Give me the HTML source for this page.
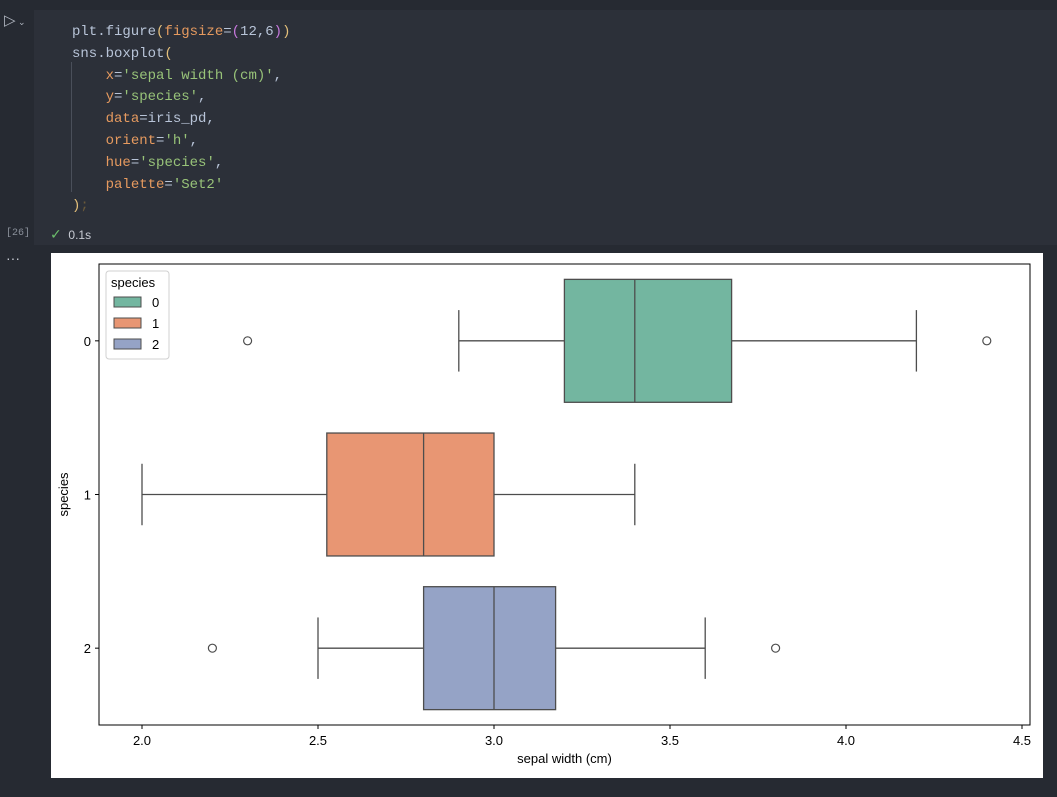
<!DOCTYPE html>
<html><head><meta charset="utf-8"><style>
body{margin:0;width:1057px;height:797px;background:#262a32;position:relative;overflow:hidden;font-family:"Liberation Sans","DejaVu Sans",sans-serif}
.cell{position:absolute;left:34px;top:10px;width:1023px;height:235px;background:#2c3039}
.code{position:absolute;left:72px;top:22px;font-family:"Liberation Mono","DejaVu Sans Mono",monospace;font-size:14px;line-height:21.8px;color:#a9b7c6;white-space:pre}
.o{color:#e69a5f}.g{color:#98c379}.y{color:#e5c07b}.p{color:#c678dd}.w{color:#b8c4d8}
.out{position:absolute;left:51px;top:253px;width:992px;height:525px;background:#fff}
</style></head><body>
<div style="position:absolute;left:4px;top:11px;color:#b0b6c0;font-size:15px">▷<span style="font-size:9px"> ⌄</span></div>
<div class="cell"></div>
<div style="position:absolute;left:71px;top:62px;width:1px;height:130px;background:#4a4f5a"></div>
<div class="code"><span class="w">plt.figure</span><span class="y">(</span><span class="o">figsize</span><span class="w">=</span><span class="p">(</span><span class="w">12,6</span><span class="p">)</span><span class="y">)</span>
<span class="w">sns.boxplot</span><span class="y">(</span>
    <span class="o">x</span><span class="w">=</span><span class="g">'sepal width (cm)'</span><span class="w">,</span>
    <span class="o">y</span><span class="w">=</span><span class="g">'species'</span><span class="w">,</span>
    <span class="o">data</span><span class="w">=iris_pd,</span>
    <span class="o">orient</span><span class="w">=</span><span class="g">'h'</span><span class="w">,</span>
    <span class="o">hue</span><span class="w">=</span><span class="g">'species'</span><span class="w">,</span>
    <span class="o">palette</span><span class="w">=</span><span class="g">'Set2'</span>
<span class="y">)</span><span style="color:#6b5a3a">;</span></div>
<div style="position:absolute;left:6px;top:228px;font-size:10px;color:#8a909a;font-family:'Liberation Mono',monospace">[26]</div>
<div style="position:absolute;left:50px;top:226px;font-size:12px;color:#c8ccd4"><span style="color:#6cbf6c;font-size:14px">✓</span>&nbsp;&nbsp;0.1s</div>
<div style="position:absolute;left:6px;top:250px;color:#c8ccd4;font-size:14px">···</div>
<div class="out">
<svg id="chart" width="992" height="525" style="position:absolute;left:0;top:0" font-family="Liberation Sans, DejaVu Sans, sans-serif"></svg>
</div>
<script>
const categories=['0','1','2'];
const colors=['#73b6a0','#e89673','#95a3c6'];
const q1=[3.2,2.525,2.8];
const medians=[3.4,2.8,3.0];
const q3=[3.675,3.0,3.175];
const whiskLo=[2.9,2.0,2.5];
const whiskHi=[4.2,3.4,3.6];
const outliers=[[2.3,4.4],[],[2.2,3.8]];
const xTicks=[2.0,2.5,3.0,3.5,4.0,4.5];
const xTickLabels=['2.0','2.5','3.0','3.5','4.0','4.5'];
const ox=51,oy=253;
const L=99-ox,R=1030-ox,T=264-oy,B=725-oy;
const xs=v=>142-ox+(v-2.0)*352;
const ys=i=>T+(i+0.5)*(B-T)/3;
const bh=0.8*(B-T)/3;
const svg=document.getElementById('chart');
const NS='http://www.w3.org/2000/svg';
function mk(t,a){const e=document.createElementNS(NS,t);for(const k in a)e.setAttribute(k,a[k]);svg.appendChild(e);return e;}
const gc='#4d4d4d';
categories.forEach((c,i)=>{
  const y=ys(i);
  let e=mk('line',{x1:xs(whiskLo[i]),x2:xs(q1[i]),y1:y,y2:y,stroke:gc,'stroke-width':1.3});
  
  e=mk('line',{x1:xs(q3[i]),x2:xs(whiskHi[i]),y1:y,y2:y,stroke:gc,'stroke-width':1.3});
  
  [whiskLo[i],whiskHi[i]].forEach(v=>{
    const cap=mk('line',{x1:xs(v),x2:xs(v),y1:y-bh/4,y2:y+bh/4,stroke:gc,'stroke-width':1.3});
    
  });
  e=mk('rect',{x:xs(q1[i]),y:y-bh/2,width:xs(q3[i])-xs(q1[i]),height:bh,fill:colors[i],stroke:gc,'stroke-width':1.3});
  
  e=mk('line',{x1:xs(medians[i]),x2:xs(medians[i]),y1:y-bh/2,y2:y+bh/2,stroke:gc,'stroke-width':1.3});
  
  outliers[i].forEach(v=>{
    const o=mk('circle',{cx:xs(v),cy:y,r:4,fill:'none',stroke:gc,'stroke-width':1.2});
    
  });
  const tk=mk('line',{x1:L-4,x2:L,y1:y,y2:y,stroke:'#000'});
  
  const tl=mk('text',{x:L-8,y:y+5,'text-anchor':'end','font-size':13,fill:'#000'});tl.textContent=c;
  
});
xTicks.forEach((v,i)=>{
  const tk=mk('line',{x1:xs(v),x2:xs(v),y1:B,y2:B+4,stroke:'#000'});
  
  const tl=mk('text',{x:xs(v),y:B+20,'text-anchor':'middle','font-size':13,fill:'#000'});tl.textContent=xTickLabels[i];
  
});
let fr=mk('rect',{x:L,y:T,width:R-L,height:B-T,fill:'none',stroke:'#000','stroke-width':1});

let xt=mk('text',{x:(L+R)/2,y:B+38,'text-anchor':'middle','font-size':13,fill:'#000'});xt.textContent='sepal width (cm)';

let yt=mk('text',{x:0,y:0,'text-anchor':'middle','font-size':13,fill:'#000',transform:`translate(${L-31},${(T+B)/2}) rotate(-90)`});yt.textContent='species';

let lg=mk('rect',{x:L+7,y:T+7,width:63,height:88,rx:3,fill:'#fff',stroke:'#d0d0d0'});

let lt=mk('text',{x:L+12,y:T+23,'font-size':13,fill:'#000'});lt.textContent='species';

categories.forEach((c,i)=>{
  const yy=T+33+i*21;
  const s=mk('rect',{x:L+15,y:yy,width:27,height:10,fill:colors[i],stroke:gc,'stroke-width':1});
  
  const t=mk('text',{x:L+53,y:yy+10,'font-size':13,fill:'#000'});t.textContent=c;
  
});
</script>
</body></html>
